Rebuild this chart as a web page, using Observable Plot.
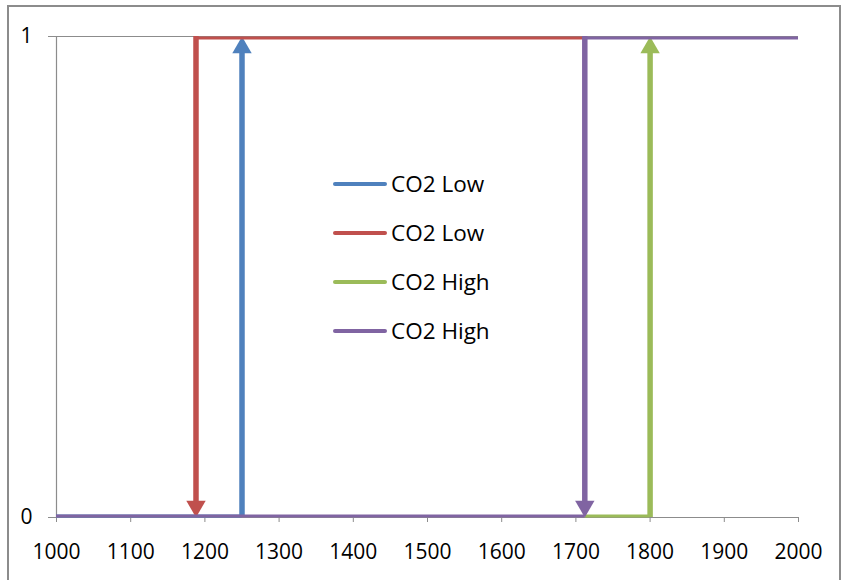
<!DOCTYPE html>
<html><head><meta charset="utf-8">
<script src="https://cdn.jsdelivr.net/npm/d3@7"></script>
<script src="https://cdn.jsdelivr.net/npm/@observablehq/plot@0.6"></script>
<style>
html,body{margin:0;padding:0;background:#fff;overflow:hidden;width:842px;height:580px;}
#frame{position:absolute;left:7px;top:5px;width:834px;height:600px;border:2.5px solid #8c8c8c;box-sizing:border-box;}
#chart{position:absolute;left:0;top:0;}
#legend{position:absolute;left:0;top:0;font-family:"Open Sans",sans-serif;font-size:22.5px;color:#000;}
.row{position:absolute;display:flex;align-items:center;white-space:nowrap;height:30px;line-height:30px;}
.sw{width:54px;height:4.5px;border-radius:2.5px;margin-right:4px;}
</style></head><body>
<div id="frame"></div><div id="chart"></div><div id="legend"></div>
<script>
// ---- data ----
const xTicks = [1000, 1100, 1200, 1300, 1400, 1500, 1600, 1700, 1800, 1900, 2000];
const yTicks = [0, 1];
const seriesNames = ["CO2 Low", "CO2 Low", "CO2 High", "CO2 High"];
const seriesColors = ["#4F81BD", "#C0504D", "#9BBB59", "#8064A2"];
// step paths (x, y) for each series; vertical steps end with an arrowhead
const blueX = [1000, 1250, 1250];        const blueY = [0, 0, 1];
const redX = [1712, 1188, 1188];         const redY = [1, 1, 0];
const greenX = [1712, 1800, 1800];       const greenY = [0, 0, 1];
const purpleX = [2000, 1712, 1712, 1000]; const purpleY = [1, 1, 0, 0];

const seriesX = [blueX, redX, greenX, purpleX];
const seriesY = [blueY, redY, greenY, purpleY];

const gray = "#8c8c8c";
const marks = [
  Plot.ruleY(yTicks, {stroke: gray, strokeWidth: 1.2}),
  Plot.ruleX([xTicks[0]], {y1: yTicks[0], y2: yTicks[1], stroke: gray, strokeWidth: 1.2}),
  Plot.axisX(xTicks, {tickSize: 5, tickPadding: 22, stroke: gray, fill: "#000", tickFormat: d => String(d), fontSize: 21}),
  Plot.axisY(yTicks, {tickSize: 8, tickPadding: 16, stroke: gray, fill: "#000", tickFormat: d => String(d), fontSize: 21})
];

seriesX.forEach((xs, s) => {
  const color = seriesColors[s];
  const ys = seriesY[s];
  const hor = [], up = [], down = [];
  for (let i = 0; i < xs.length - 1; i++) {
    const a = {x: xs[i], y: ys[i]}, b = {x: xs[i + 1], y: ys[i + 1]};
    const hi = Math.max(a.y, b.y), lo = Math.min(a.y, b.y);
    if (a.y === b.y) hor.push({x1: Math.min(a.x, b.x), x2: Math.max(a.x, b.x), y: a.y});
    else if (b.y > a.y) up.push({x: a.x, hi, lo});
    else down.push({x: a.x, hi, lo});
  }
  marks.push(
    Plot.ruleY(hor.filter(d => d.y === 1), {x1: "x1", x2: "x2", y: "y", stroke: color, strokeWidth: 3, dy: 1.5}),
    Plot.ruleY(hor.filter(d => d.y === 0), {x1: "x1", x2: "x2", y: "y", stroke: color, strokeWidth: 3, dy: -1.5}),
    Plot.ruleX(up, {x: "x", y1: "hi", y2: "lo", stroke: color, strokeWidth: 5.5, insetTop: 12}),
    Plot.ruleX(down, {x: "x", y1: "hi", y2: "lo", stroke: color, strokeWidth: 5.5, insetBottom: 12}),
    Plot.dot(up, {x: "x", y: "hi", symbol: "triangle", r: 7.2, fill: color, stroke: "none", dy: 11.2}),
    Plot.dot(down, {x: "x", y: "lo", symbol: "triangle", r: 7.2, fill: color, stroke: "none", rotate: 180, dy: -11.2})
  );
});

const chart = Plot.plot({
  width: 842, height: 580,
  marginLeft: 56, marginRight: 44, marginTop: 36, marginBottom: 63,
  x: {domain: [xTicks[0], xTicks[xTicks.length - 1]], axis: null},
  y: {domain: [yTicks[0], yTicks[yTicks.length - 1]], axis: null},
  style: {fontFamily: "Open Sans, sans-serif", fontSize: "21px", background: "transparent", color: "#000"},
  marks
});
document.getElementById("chart").appendChild(chart);

// legend (HTML, inside plot area)
const legend = d3.select("#legend");
const rowCenters = [184, 233, 282, 331];
seriesNames.forEach((name, i) => {
  const row = legend.append("div").attr("class", "row")
    .style("left", "333px").style("top", (rowCenters[i] - 15) + "px");
  row.append("div").attr("class", "sw").style("background", seriesColors[i]);
  row.append("span").text(name);
});
</script>
</body></html>
